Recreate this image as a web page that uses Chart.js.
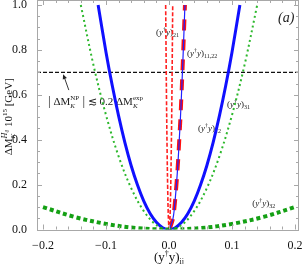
<!DOCTYPE html>
<html><head><meta charset="utf-8">
<script src="https://cdn.jsdelivr.net/npm/chart.js@4/dist/chart.umd.min.js"></script>
<style>html,body{margin:0;padding:0;background:#fff;overflow:hidden}canvas{display:block}</style>
</head><body><canvas id="c" width="304" height="264"></canvas>
<script>
// ---- data ----
const xTicks = [-0.2, -0.1, 0, 0.1, 0.2];
const yTicks = [0, 0.2, 0.4, 0.6, 0.8, 1.0];

const blue12X = [-0.1125,-0.1,-0.09,-0.08,-0.07,-0.06,-0.05,-0.04,-0.03,-0.02,-0.01,0,0.01,0.02,0.03,0.04,0.05,0.06,0.07,0.08,0.09,0.1,0.1125];
const blue12Y = [1.0,0.79,0.64,0.506,0.387,0.284,0.198,0.126,0.071,0.032,0.008,0,0.008,0.032,0.071,0.126,0.198,0.284,0.387,0.506,0.64,0.79,1.0];

const green31X = [-0.14,-0.12,-0.1,-0.08,-0.06,-0.04,-0.02,0,0.02,0.04,0.06,0.08,0.1,0.12,0.14];
const green31Y = [1.0,0.734,0.51,0.326,0.184,0.082,0.02,0,0.02,0.082,0.184,0.326,0.51,0.734,1.0];

const green32X = [-0.2,-0.15,-0.1,-0.05,0,0.05,0.1,0.15,0.2];
const green32Y = [0.1,0.056,0.025,0.006,0,0.006,0.025,0.056,0.1];

const red21X = [-0.0053,-0.004,-0.003,-0.002,-0.001,0.0003,0.0016,0.0026,0.0036,0.0046,0.0059];
const red21Y = [1.0,0.59,0.35,0.17,0.054,0,0.054,0.17,0.35,0.59,1.0];

const c1122X = [0.001,0.0064,0.0087,0.0118,0.0143,0.0163,0.0182,0.0198,0.0213,0.0227,0.024,0.0253];
const c1122Y = [0,0.05,0.1,0.2,0.3,0.4,0.5,0.6,0.7,0.8,0.9,1.0];

const boundX = [-0.2095, 0.2064];
const boundY = [0.7, 0.7];

const xMin = -0.20952, xMax = 0.20635, yMin = 0, yMax = 1.0223;

// ---- helpers ----
const FAM = '"Liberation Serif", "Times New Roman", serif';
function pts(xs, ys){ return xs.map((x,i)=>({x:x, y:ys[i]})); }
function fnt(p){ return (p.i?'italic ':'') + p.s + 'px ' + FAM; }
function drawRich(ctx, x, y, parts, align){
  const widths = []; let w = 0;
  for (const p of parts){
    let pw;
    if (p.sub){ ctx.font=fnt(p.sub); const a=ctx.measureText(p.sub.t).width; ctx.font=fnt(p.sup); const b=ctx.measureText(p.sup.t).width; pw=Math.max(a,b); }
    else { ctx.font=fnt(p); pw=ctx.measureText(p.t).width; }
    widths.push(pw); w+=pw;
  }
  let cx = align==='center' ? x-w/2 : (align==='right' ? x-w : x);
  ctx.textAlign='left'; ctx.textBaseline='alphabetic';
  parts.forEach((p,k)=>{
    if (p.sub){ ctx.font=fnt(p.sub); ctx.fillText(p.sub.t,cx,y+p.sub.dy); ctx.font=fnt(p.sup); ctx.fillText(p.sup.t,cx,y+p.sup.dy); }
    else { ctx.font=fnt(p); ctx.fillText(p.t,cx,y+(p.dy||0)); }
    cx+=widths[k];
  });
}
function yyLabel(idx, s, it){
  const ss = Math.round(s*0.68);
  return [{t:'(',s:s},{t:'y',s:s,i:it},{t:'†',s:ss,dy:-Math.round(s*0.4)},{t:'y',s:s,i:it},{t:')',s:s},{t:idx,s:ss,dy:Math.round(s*0.25)}];
}

const labels = [
  {x:-0.0206, y:0.866, parts: yyLabel('21',9,1)},
  {x:0.0286, y:0.773, parts: yyLabel('11,22',9,1)},
  {x:0.092, y:0.546, parts: yyLabel('31',9,1)},
  {x:0.046, y:0.439, parts: yyLabel('12',9,1)},
  {x:0.132, y:0.105, parts: yyLabel('32',9,1)},
  {x:0.173, y:0.924, parts: [{t:'(a)',s:14,i:1}]},
  {x:-0.192, y:0.555, parts: [
    {t:'|',s:13},{t:' ΔM',s:11},{sub:{t:'K',s:7,i:1,dy:3},sup:{t:'NP',s:7,dy:-5}},{t:' |',s:13},{t:' ≲ 0.2 ΔM',s:11},{sub:{t:'K',s:7,i:1,dy:3},sup:{t:'exp',s:7,dy:-5}}
  ]}
];
const arrowTail = {x:-0.159, y:0.621}, arrowTip = {x:-0.168, y:0.692};

const annot = {
  id:'annot',
  beforeDatasetsDraw(chart){
    const ctx=chart.ctx, xs=chart.scales.x, ys=chart.scales.y;
    ctx.save(); ctx.fillStyle='#222';
    for (const L of labels) drawRich(ctx, xs.getPixelForValue(L.x), ys.getPixelForValue(L.y), L.parts, 'left');
    const x1=xs.getPixelForValue(arrowTail.x), y1=ys.getPixelForValue(arrowTail.y);
    const x2=xs.getPixelForValue(arrowTip.x), y2=ys.getPixelForValue(arrowTip.y);
    const ang=Math.atan2(y2-y1,x2-x1);
    ctx.strokeStyle='#222'; ctx.lineWidth=0.9;
    ctx.beginPath(); ctx.moveTo(x1,y1); ctx.lineTo(x2-3*Math.cos(ang),y2-3*Math.sin(ang)); ctx.stroke();
    ctx.beginPath(); ctx.moveTo(x2,y2);
    ctx.lineTo(x2-5*Math.cos(ang)+2.2*Math.sin(ang), y2-5*Math.sin(ang)-2.2*Math.cos(ang));
    ctx.lineTo(x2-5*Math.cos(ang)-2.2*Math.sin(ang), y2-5*Math.sin(ang)+2.2*Math.cos(ang));
    ctx.closePath(); ctx.fill();
    ctx.restore();
  },
  afterDraw(chart){
    const ctx=chart.ctx, a=chart.chartArea, xs=chart.scales.x, ys=chart.scales.y;
    ctx.save();
    ctx.strokeStyle='#a8a8a8'; ctx.lineWidth=1;
    ctx.strokeRect(Math.round(a.left)+0.5, Math.round(a.top)+0.5, Math.round(a.right-a.left)-1, Math.round(a.bottom-a.top));
    ctx.beginPath();
    for (let i=-10;i<=10;i++){
      const v=i*0.02; const px=Math.round(xs.getPixelForValue(v))+0.5; const L=(i%5===0)?5:3;
      ctx.moveTo(px,a.bottom); ctx.lineTo(px,a.bottom-L);
      ctx.moveTo(px,a.top); ctx.lineTo(px,a.top+L);
    }
    for (let i=0;i<=20;i++){
      const v=i*0.05; const py=Math.round(ys.getPixelForValue(v))+0.5; const L=(i%4===0)?5:3;
      ctx.moveTo(a.left,py); ctx.lineTo(a.left+L,py);
      ctx.moveTo(a.right,py); ctx.lineTo(a.right-L,py);
    }
    ctx.stroke();
    ctx.fillStyle='#111';
    drawRich(ctx, xs.getPixelForValue(0), 261, [{t:'(y',s:13},{t:'†',s:8,dy:-5},{t:'y)',s:13},{t:'ij',s:8,dy:3}], 'center');
    ctx.translate(12, (a.top+a.bottom)/2+2); ctx.rotate(-Math.PI/2);
    drawRich(ctx, 0, 0, [{t:'ΔM',s:11},{sub:{t:'K',s:7,i:1,dy:3},sup:{t:'H₀',s:8,i:1,dy:-5}},{t:' 10',s:11},{t:'15',s:7,dy:-5},{t:' [GeV]',s:11}], 'center');
    ctx.restore();
  }
};

const fmt = v => (v<0?'−':'') + Math.abs(v).toFixed(1);
const common = {showLine:true, pointRadius:0, fill:false, tension:0.35};

new Chart(document.getElementById('c'), {
  type:'scatter',
  data:{datasets:[
    Object.assign({data:pts(green32X,green32Y), borderColor:'#14a014', borderWidth:4, borderDash:[4,3]}, common),
    Object.assign({data:pts(green31X,green31Y), borderColor:'#2db82d', borderWidth:2, borderDash:[2,3]}, common),
    Object.assign({data:pts(blue12X,blue12Y), borderColor:'#1010ff', borderWidth:3}, common),
    Object.assign({data:pts(c1122X,c1122Y), borderColor:'#2020ff', borderWidth:1.2}, common),
    Object.assign({data:pts(c1122X,c1122Y), borderColor:'#ff1010', borderWidth:4, borderDash:[11,9]}, common),
    Object.assign({data:pts(red21X,red21Y), borderColor:'#ff2020', borderWidth:1.6, borderDash:[4,2]}, common),
    Object.assign({data:pts(boundX,boundY), borderColor:'#111', borderWidth:1.1, borderDash:[4,2]}, common, {tension:0})
  ]},
  options:{
    responsive:false, animation:false, events:[],
    layout:{padding:{top:0,right:5,left:0,bottom:0}},
    plugins:{legend:{display:false}, tooltip:{enabled:false}},
    scales:{
      x:{type:'linear', min:xMin, max:xMax, grid:{display:false}, border:{display:false},
        afterBuildTicks:s=>{s.ticks=xTicks.map(v=>({value:v}));},
        ticks:{padding:1, color:'#111', maxRotation:0, autoSkip:false, font:{family:FAM,size:12}, callback:v=>fmt(v)},
        afterFit:s=>{s.height=34.5; s.paddingLeft=0; s.paddingRight=0;}},
      y:{type:'linear', min:yMin, max:yMax, grid:{display:false}, border:{display:false},
        afterBuildTicks:s=>{s.ticks=yTicks.map(v=>({value:v}));},
        ticks:{padding:2, color:'#111', autoSkip:false, font:{family:FAM,size:12}, callback:v=>fmt(v)},
        afterFit:s=>{s.width=37; s.paddingTop=0; s.paddingBottom=0;}}
    }
  },
  plugins:[annot]
});
</script>
</body></html>
